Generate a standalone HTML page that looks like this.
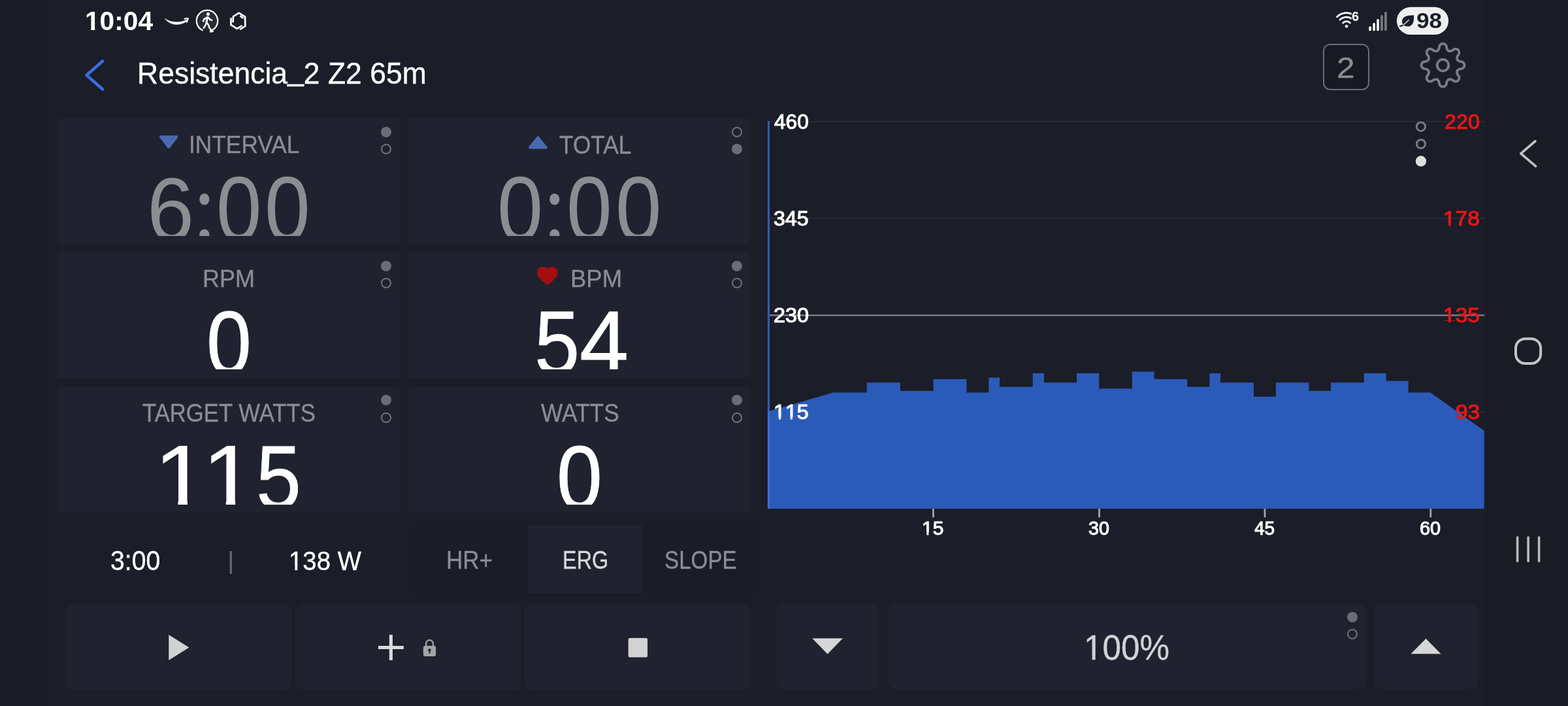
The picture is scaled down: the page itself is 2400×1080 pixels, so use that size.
<!DOCTYPE html>
<html lang="es"><head><meta charset="utf-8"><title>Resistencia_2 Z2 65m</title>
<meta name="viewport" content="width=2400, height=1080">
<style>
html,body{margin:0;padding:0;background:#1b1d28;}
body{width:2400px;height:1080px;overflow:hidden;position:relative;background:#1b1d28;font-family:"Liberation Sans",sans-serif;color:#fff;}
.t{position:absolute;white-space:nowrap;transform-origin:0 0;display:block;margin:0;padding:0;}
.abs{position:absolute;}
.panel{position:absolute;background:#20222f;border-radius:2.5px;overflow:hidden;}
.btn{position:absolute;background:#20222f;border-radius:11px;}
.o1{display:inline-block;clip-path:polygon(0 0,100% 0,100% 72.5%,62% 72.5%,62% 130%,44.4% 130%,44.4% 72.5%,0 72.5%);}
.o1b{display:inline-block;clip-path:polygon(0 0,100% 0,100% 69.5%,67.4% 69.5%,67.4% 130%,41.2% 130%,41.2% 69.5%,0 69.5%);}
.dot{position:absolute;width:16px;height:16px;border-radius:50%;box-sizing:border-box;}
.dot.f{background:#6a6c78;}
.dot.r{border:2.6px solid #6e707a;}
svg{position:absolute;left:0;top:0;overflow:visible;}

</style></head><body>
<div class="abs notext" style="left:0;top:0;width:74px;height:1080px;background:#191b25"></div>
<div class="abs notext" style="left:2274px;top:0;width:126px;height:1080px;background:#1a1c25"></div>
<svg class="notext" width="2400" height="1080" viewBox="0 0 2400 1080">
<rect x="1177" y="185.1" width="1095" height="1.8" fill="#2a2c38"/>
<rect x="1177" y="333.1" width="1095" height="1.8" fill="#2a2c38"/>
<rect x="1177" y="629.4" width="1095" height="1.8" fill="#2a2c38"/>
<rect x="1175" y="481.1" width="1097" height="2.4" fill="#7e7f86"/>
<path d="M1175.3 629.4 L1275.3 600.6 L1326.7 600.6 L1326.7 585.3 L1378 585.3 L1378 598 L1428.6 598 L1428.6 580 L1479.4 580 L1479.4 600.6 L1513.3 600.6 L1513.3 577.8 L1530 577.8 L1530 591.7 L1580.8 591.7 L1580.8 571.1 L1598 571.1 L1598 585.3 L1648 585.3 L1648 571.1 L1682.2 571.1 L1682.2 594.4 L1732.8 594.4 L1732.8 568.6 L1766.7 568.6 L1766.7 580 L1817.2 580 L1817.2 591.7 L1851.4 591.7 L1851.4 571.1 L1868 571.1 L1868 585.3 L1918.9 585.3 L1918.9 606.7 L1952.8 606.7 L1952.8 585.3 L2003.3 585.3 L2003.3 598 L2037 598 L2037 585.3 L2087.8 585.3 L2087.8 571.1 L2121.7 571.1 L2121.7 582.8 L2155.6 582.8 L2155.6 600.6 L2189.4 600.6 L2271.7 658.9 L2271.7 778.3 L1175.3 778.3 Z" fill="#2b5bb9"/>
<rect x="1174.9" y="185" width="3.2" height="445" fill="#2d5cae"/>
<rect x="1174.9" y="628.5" width="3.2" height="149.8" fill="#3a6fd0"/>
<rect x="1427.1" y="778.3" width="2.8" height="13.2" fill="#a4a4aa"/>
<rect x="1681.1" y="778.3" width="2.8" height="13.2" fill="#a4a4aa"/>
<rect x="1934.6" y="778.3" width="2.8" height="13.2" fill="#a4a4aa"/>
<rect x="2188.4" y="778.3" width="2.8" height="13.2" fill="#a4a4aa"/>
<circle cx="2174.9" cy="193.7" r="6.6" fill="none" stroke="#77787f" stroke-width="2.8"/>
<circle cx="2174.9" cy="220.2" r="6.6" fill="none" stroke="#77787f" stroke-width="2.8"/>
<circle cx="2174.9" cy="246.6" r="8" fill="#dedede"/>
<rect x="2026" y="68" width="69" height="69" rx="10" fill="#171923" stroke="#6b6d76" stroke-width="2"/>
<path d="M2208.50 66.75 L2209.36 66.83 L2210.21 67.05 L2211.04 67.43 L2211.84 67.96 L2212.59 68.66 L2213.28 69.56 L2213.87 70.78 L2214.14 73.20 L2214.58 74.44 L2215.03 75.37 L2215.50 76.13 L2215.97 76.75 L2216.46 77.26 L2216.98 77.66 L2217.53 77.95 L2218.12 78.13 L2218.77 78.22 L2219.48 78.21 L2220.26 78.10 L2221.12 77.89 L2222.10 77.56 L2223.28 76.99 L2225.19 75.47 L2226.47 75.02 L2227.59 74.87 L2228.62 74.91 L2229.56 75.10 L2230.41 75.42 L2231.17 75.86 L2231.83 76.42 L2232.39 77.08 L2232.83 77.84 L2233.15 78.69 L2233.34 79.63 L2233.38 80.66 L2233.23 81.78 L2232.78 83.06 L2231.26 84.97 L2230.69 86.15 L2230.36 87.13 L2230.15 87.99 L2230.04 88.77 L2230.03 89.48 L2230.12 90.13 L2230.30 90.72 L2230.59 91.27 L2230.99 91.79 L2231.50 92.28 L2232.12 92.75 L2232.88 93.22 L2233.81 93.67 L2235.05 94.11 L2237.47 94.38 L2238.69 94.97 L2239.59 95.66 L2240.29 96.41 L2240.82 97.21 L2241.20 98.04 L2241.42 98.89 L2241.50 99.75 L2241.42 100.61 L2241.20 101.46 L2240.82 102.29 L2240.29 103.09 L2239.59 103.84 L2238.69 104.53 L2237.47 105.12 L2235.05 105.39 L2233.81 105.83 L2232.88 106.28 L2232.12 106.75 L2231.50 107.22 L2230.99 107.71 L2230.59 108.23 L2230.30 108.78 L2230.12 109.37 L2230.03 110.02 L2230.04 110.73 L2230.15 111.51 L2230.36 112.37 L2230.69 113.35 L2231.26 114.53 L2232.78 116.44 L2233.23 117.72 L2233.38 118.84 L2233.34 119.87 L2233.15 120.81 L2232.83 121.66 L2232.39 122.42 L2231.83 123.08 L2231.17 123.64 L2230.41 124.08 L2229.56 124.40 L2228.62 124.59 L2227.59 124.63 L2226.47 124.48 L2225.19 124.03 L2223.28 122.51 L2222.10 121.94 L2221.12 121.61 L2220.26 121.40 L2219.48 121.29 L2218.77 121.28 L2218.12 121.37 L2217.53 121.55 L2216.98 121.84 L2216.46 122.24 L2215.97 122.75 L2215.50 123.37 L2215.03 124.13 L2214.58 125.06 L2214.14 126.30 L2213.87 128.72 L2213.28 129.94 L2212.59 130.84 L2211.84 131.54 L2211.04 132.07 L2210.21 132.45 L2209.36 132.67 L2208.50 132.75 L2207.64 132.67 L2206.79 132.45 L2205.96 132.07 L2205.16 131.54 L2204.41 130.84 L2203.72 129.94 L2203.13 128.72 L2202.86 126.30 L2202.42 125.06 L2201.97 124.13 L2201.50 123.37 L2201.03 122.75 L2200.54 122.24 L2200.02 121.84 L2199.47 121.55 L2198.88 121.37 L2198.23 121.28 L2197.52 121.29 L2196.74 121.40 L2195.88 121.61 L2194.90 121.94 L2193.72 122.51 L2191.81 124.03 L2190.53 124.48 L2189.41 124.63 L2188.38 124.59 L2187.44 124.40 L2186.59 124.08 L2185.83 123.64 L2185.17 123.08 L2184.61 122.42 L2184.17 121.66 L2183.85 120.81 L2183.66 119.87 L2183.62 118.84 L2183.77 117.72 L2184.22 116.44 L2185.74 114.53 L2186.31 113.35 L2186.64 112.37 L2186.85 111.51 L2186.96 110.73 L2186.97 110.02 L2186.88 109.37 L2186.70 108.78 L2186.41 108.23 L2186.01 107.71 L2185.50 107.22 L2184.88 106.75 L2184.12 106.28 L2183.19 105.83 L2181.95 105.39 L2179.53 105.12 L2178.31 104.53 L2177.41 103.84 L2176.71 103.09 L2176.18 102.29 L2175.80 101.46 L2175.58 100.61 L2175.50 99.75 L2175.58 98.89 L2175.80 98.04 L2176.18 97.21 L2176.71 96.41 L2177.41 95.66 L2178.31 94.97 L2179.53 94.38 L2181.95 94.11 L2183.19 93.67 L2184.12 93.22 L2184.88 92.75 L2185.50 92.28 L2186.01 91.79 L2186.41 91.27 L2186.70 90.72 L2186.88 90.13 L2186.97 89.48 L2186.96 88.77 L2186.85 87.99 L2186.64 87.13 L2186.31 86.15 L2185.74 84.97 L2184.22 83.06 L2183.77 81.78 L2183.62 80.66 L2183.66 79.63 L2183.85 78.69 L2184.17 77.84 L2184.61 77.08 L2185.17 76.42 L2185.83 75.86 L2186.59 75.42 L2187.44 75.10 L2188.38 74.91 L2189.41 74.87 L2190.53 75.02 L2191.81 75.47 L2193.72 76.99 L2194.90 77.56 L2195.88 77.89 L2196.74 78.10 L2197.52 78.21 L2198.23 78.22 L2198.88 78.13 L2199.47 77.95 L2200.02 77.66 L2200.54 77.26 L2201.03 76.75 L2201.50 76.13 L2201.97 75.37 L2202.42 74.44 L2202.86 73.20 L2203.13 70.78 L2203.72 69.56 L2204.41 68.66 L2205.16 67.96 L2205.96 67.43 L2206.79 67.05 L2207.64 66.83 Z" fill="none" stroke="#7b7d85" stroke-width="3.8" stroke-linejoin="round"/>
<circle cx="2208.5" cy="99.75" r="8.8" fill="none" stroke="#7b7d85" stroke-width="3.8"/>
<path d="M252.3 28.2 C259 33.6 274 36.6 285.4 30.2 L286.4 32 C275 40.6 259.5 38.8 252.3 28.2 Z" fill="#fff" stroke="#fff" stroke-width="0.5"/>
<path d="M282.4 28.8 L288 28 L286 33.8" fill="none" stroke="#fff" stroke-width="2" stroke-linejoin="round" stroke-linecap="round"/>
<circle cx="317.3" cy="31.7" r="14.6" fill="#2a2b35"/>
<path d="M309.8 46.3 A16.2 16.2 0 1 1 325.6 45.6" fill="none" stroke="#fff" stroke-width="2.3" stroke-linecap="round"/>
<path d="M321.4 42.8 L321.6 49.2 L326.6 48.4 Z" fill="#fff" stroke="#fff" stroke-width="1.2" stroke-linejoin="round"/>
<circle cx="318.5" cy="21.6" r="2.6" fill="#fff"/>
<path d="M317.6 26 L315.8 33.5 L319 38 L320.4 42.5 M316 33.5 L314.6 38.5 L311.8 42.6 M317 26.6 L312.5 29.2 L311 32.6 M319.3 27 L321.3 30 L324.2 30.9 M317.4 27 L316.6 33" fill="none" stroke="#fff" stroke-width="2.5" stroke-linecap="round" stroke-linejoin="round"/>
<path d="M356.6 34.4 L357 25.2 L365.7 19.8 L375 25.6 L375.4 40 L367.2 45.2 M353.6 27.2 L353.4 38 L362.8 43.8 L370.6 39.2 M367.4 24.4 L372.6 27.8" fill="none" stroke="#fff" stroke-width="2.7" stroke-linejoin="miter"/>
<circle cx="2061" cy="40.3" r="2.3" fill="#fff"/>
<path d="M2055.63 34.93 A7.6 7.6 0 0 1 2066.37 34.93" fill="none" stroke="#fff" stroke-width="2.8" stroke-linecap="round"/>
<path d="M2050.96 30.26 A14.2 14.2 0 0 1 2071.04 30.26" fill="none" stroke="#fff" stroke-width="2.8" stroke-linecap="round"/>
<path d="M2046.43 25.73 A20.6 20.6 0 0 1 2071.30 22.46" fill="none" stroke="#fff" stroke-width="2.8" stroke-linecap="round"/>
<rect x="2068.7" y="15" width="13" height="18" fill="#1b1d28"/>
<rect x="2095.2999999999997" y="40.2" width="3.6" height="7.099999999999994" rx="1.6" fill="#fff"/>
<rect x="2101.2999999999997" y="35" width="3.6" height="12.299999999999997" rx="1.6" fill="#fff"/>
<rect x="2107.2" y="29" width="3.6" height="18.299999999999997" rx="1.6" fill="#fff"/>
<rect x="2113.2" y="23" width="3.6" height="24.299999999999997" rx="1.6" fill="#7c7d84"/>
<rect x="2119.1" y="18" width="3.6" height="29.299999999999997" rx="1.6" fill="#7c7d84"/>
<rect x="2137.9" y="10.8" width="79.2" height="42.2" rx="21.1" fill="#efefef"/>
<path d="M2164 23.3 C2164.8 32 2163 40.6 2154.6 40.6 C2149.4 40.6 2146 37.4 2146 32.6 C2146 26 2152 23.3 2164 23.3 Z" fill="#1b1d28"/>
<path d="M2143 40 C2147.5 39.6 2151.5 36.6 2156 31.6" fill="none" stroke="#1b1d28" stroke-width="2.2" stroke-linecap="round"/>
<path d="M2147.4 38.2 C2150.6 36.4 2153 34 2156.2 30.8" fill="none" stroke="#efefef" stroke-width="1.3" stroke-linecap="round"/>
</svg>
<header class="abs" style="left:0;top:0;width:2400px;height:64px">
<span class="t " style="left:129.91px;top:11.52px;font-size:41.375px;line-height:41.375px;color:#fff;font-weight:700;transform:scaleX(0.9830);"><span class="o1b">1</span>0:04</span>
<span class="t " style="left:2069.33px;top:15.59px;font-size:19.375px;line-height:19.375px;color:#fff;font-weight:700;transform:scaleX(1.0202);">6</span>
<span class="t " style="left:2168.13px;top:15.96px;font-size:32.75px;line-height:32.75px;color:#1b1d28;font-weight:700;transform:scaleX(1.0725);">98</span>
</header>
<nav class="abs" style="left:0;top:64px;width:2400px;height:100px">
</nav>
<span class="t" style="left:209.72px;top:89.54px;font-size:45.5px;line-height:45.5px;color:#fff;-webkit-text-stroke:0.35px #fff;transform:scaleX(0.9781);">Resistencia<span style="position:relative;top:-0.105em">_</span>2 Z2 65m</span>
<span class="t " style="left:2045.80px;top:81.02px;font-size:45.0px;line-height:45.0px;color:#8b8d95;-webkit-text-stroke:0.35px #8b8d95;transform:scaleX(1.0975);">2</span>
<section class="panel" style="left:88px;top:181.25px;width:524px;height:191.5px">
<span class="t " style="left:201.20px;top:21.49px;font-size:37.375px;line-height:37.375px;color:#8b8d95;-webkit-text-stroke:0.35px #8b8d95;transform:scaleX(0.9450);">INTERVAL</span>
<div class="abs" style="left:0;top:0;width:524px;height:179.75px;overflow:hidden"><span class="t" style="left:136.89px;top:70.66px;font-size:137.5px;line-height:137.5px;color:#8c8d93;transform:scale(0.9432,1.0002);">6</span><span class="t" style="left:206.91px;top:60.70px;font-size:148.75px;line-height:148.75px;color:#8c8d93;transform:scale(0.8698,1.0008);font-family:'Liberation Serif',serif;">:</span><span class="t" style="left:243.47px;top:69.22px;font-size:140.0px;line-height:140.0px;color:#8c8d93;transform:scale(0.8939,0.9995);">0</span><span class="t" style="left:317.19px;top:69.22px;font-size:140.0px;line-height:140.0px;color:#8c8d93;transform:scale(0.8960,0.9995);">0</span></div>
<i class="dot f notext" style="left:495px;top:12.5px"></i>
<i class="dot r notext" style="left:495px;top:39px"></i>
<svg class="notext" width="40" height="30" style="left:155.75px;top:25.75px"><path d="M2 2.3 H26.4 L14.2 18 Z" fill="#4a6ab0" stroke="#4a6ab0" stroke-width="4" stroke-linejoin="round"/></svg>
</section>
<section class="panel" style="left:625px;top:181.25px;width:523px;height:191.5px">
<span class="t " style="left:230.75px;top:21.89px;font-size:38.25px;line-height:38.25px;color:#8b8d95;-webkit-text-stroke:0.35px #8b8d95;transform:scaleX(0.9226);">TOTAL</span>
<div class="abs" style="left:0;top:0;width:523px;height:179.75px;overflow:hidden"><span class="t" style="left:135.93px;top:69.22px;font-size:140.0px;line-height:140.0px;color:#8c8d93;transform:scale(0.9020,0.9995);">0</span><span class="t" style="left:205.91px;top:60.70px;font-size:148.75px;line-height:148.75px;color:#8c8d93;transform:scale(0.8698,1.0008);font-family:'Liberation Serif',serif;">:</span><span class="t" style="left:242.19px;top:69.22px;font-size:140.0px;line-height:140.0px;color:#8c8d93;transform:scale(0.8960,0.9995);">0</span><span class="t" style="left:317.28px;top:69.22px;font-size:140.0px;line-height:140.0px;color:#8c8d93;transform:scale(0.9074,0.9995);">0</span></div>
<i class="dot r notext" style="left:495px;top:12.5px"></i>
<i class="dot f notext" style="left:495px;top:39px"></i>
<svg class="notext" width="40" height="30" style="left:183.75px;top:26.75px"><path d="M2 17.7 H26.8 L14.4 2.3 Z" fill="#4a6ab0" stroke="#4a6ab0" stroke-width="4" stroke-linejoin="round"/></svg>
</section>
<section class="panel" style="left:88px;top:386.25px;width:524px;height:191.5px">
<span class="t " style="left:221.98px;top:21.49px;font-size:37.375px;line-height:37.375px;color:#8b8d95;-webkit-text-stroke:0.35px #8b8d95;transform:scaleX(0.9643);">RPM</span>
<div class="abs" style="left:0;top:0;width:524px;height:178.65px;overflow:hidden"><span class="t" style="left:227.92px;top:69.97px;font-size:137.0px;line-height:137.0px;color:#fff;transform:scale(0.9057,0.9997);-webkit-text-stroke:0.9px #fff;">0</span></div>
<i class="dot f notext" style="left:495px;top:12.5px"></i>
<i class="dot r notext" style="left:495px;top:39px"></i>
</section>
<section class="panel" style="left:625px;top:386.25px;width:523px;height:191.5px">
<span class="t " style="left:248.33px;top:21.49px;font-size:37.375px;line-height:37.375px;color:#8b8d95;-webkit-text-stroke:0.35px #8b8d95;transform:scaleX(0.9781);">BPM</span>
<div class="abs" style="left:0;top:0;width:523px;height:178.65px;overflow:hidden"><span class="t" style="left:192.62px;top:69.88px;font-size:137.25px;line-height:137.25px;color:#fff;transform:scale(0.9079,0.9997);-webkit-text-stroke:0.9px #fff;">5</span><span class="t" style="left:261.65px;top:68.87px;font-size:137.25px;line-height:137.25px;color:#fff;transform:scale(0.9848,1.0004);-webkit-text-stroke:0.9px #fff;">4</span></div>
<i class="dot f notext" style="left:495px;top:12.5px"></i>
<i class="dot r notext" style="left:495px;top:39px"></i>
<svg class="notext" width="40" height="34" viewBox="0 0 40 34" style="left:193px;top:18.75px"><path d="M20 28.6 C14 23.6 7.2 18.4 6.6 12.4 C6.2 8.2 9 5.6 12.6 5.6 C15.6 5.6 18.4 7 20 9.2 C21.6 7 24.4 5.6 27.4 5.6 C31 5.6 33.8 8.2 33.4 12.4 C32.8 18.4 26 23.6 20 28.6 Z" fill="#a60e0e" stroke="#a60e0e" stroke-width="4.6" stroke-linejoin="round"/></svg>
</section>
<section class="panel" style="left:88px;top:591.75px;width:524px;height:191.5px">
<span class="t " style="left:129.71px;top:21.52px;font-size:38.375px;line-height:38.375px;color:#8b8d95;-webkit-text-stroke:0.35px #8b8d95;transform:scaleX(0.9049);">TARGET WATTS</span>
<div class="abs" style="left:0;top:0;width:524px;height:180.15px;overflow:hidden"><span class="t" style="left:146.71px;top:69.61px;font-size:138.5px;line-height:138.5px;color:#fff;transform:scale(1.0941,1.0009);clip-path:polygon(0 0,77.0px 0,77.0px 104.1px,47.6px 104.1px,47.6px 158.5px,34.2px 158.5px,34.2px 104.1px,0 104.1px);">1</span><span class="t" style="left:221.31px;top:69.61px;font-size:138.5px;line-height:138.5px;color:#fff;transform:scale(1.0769,1.0009);clip-path:polygon(0 0,77.0px 0,77.0px 104.1px,47.6px 104.1px,47.6px 158.5px,34.2px 158.5px,34.2px 104.1px,0 104.1px);">1</span><span class="t" style="left:304.42px;top:70.36px;font-size:137.25px;line-height:137.25px;color:#fff;transform:scale(0.9031,0.9997);-webkit-text-stroke:0.9px #fff;">5</span></div>
<i class="dot f notext" style="left:495px;top:12.5px"></i>
<i class="dot r notext" style="left:495px;top:39px"></i>
</section>
<section class="panel" style="left:625px;top:591.75px;width:523px;height:191.5px">
<span class="t " style="left:203.11px;top:21.52px;font-size:38.375px;line-height:38.375px;color:#8b8d95;-webkit-text-stroke:0.35px #8b8d95;transform:scaleX(0.9211);">WATTS</span>
<div class="abs" style="left:0;top:0;width:523px;height:180.15px;overflow:hidden"><span class="t" style="left:226.93px;top:69.84px;font-size:137.0px;line-height:137.0px;color:#fff;transform:scale(0.9180,0.9997);-webkit-text-stroke:0.9px #fff;">0</span></div>
<i class="dot f notext" style="left:495px;top:12.5px"></i>
<i class="dot r notext" style="left:495px;top:39px"></i>
</section>
<span class="t " style="left:168.54px;top:837.08px;font-size:41.75px;line-height:41.75px;color:#fff;-webkit-text-stroke:0.35px #fff;transform:scaleX(0.9383);">3:00</span>
<span class="t" style="left:347.55px;top:839.65px;font-size:36.5px;line-height:36.5px;color:#62646e;transform:scale(1.1301,0.9995);">|</span>
<span class="t " style="left:442.17px;top:837.57px;font-size:41.375px;line-height:41.375px;color:#fff;-webkit-text-stroke:0.35px #fff;transform:scaleX(0.9282);"><span class="o1">1</span>38 W</span>
<div class="abs notext" style="left:630px;top:800px;width:532px;height:112px;background:#1b1c27"></div>
<div class="abs notext" style="left:808.3px;top:803.1px;width:176px;height:104.7px;background:#20222f"></div>
<span class="t " style="left:683.47px;top:838.01px;font-size:38.0px;line-height:38.0px;color:#8b8d95;-webkit-text-stroke:0.35px #8b8d95;transform:scaleX(0.9212);">HR+</span>
<span class="t " style="left:861.35px;top:837.39px;font-size:39.375px;line-height:39.375px;color:#d9d9dd;-webkit-text-stroke:0.35px #d9d9dd;transform:scaleX(0.8242);">ERG</span>
<span class="t " style="left:1017.17px;top:837.39px;font-size:39.375px;line-height:39.375px;color:#8b8d95;-webkit-text-stroke:0.35px #8b8d95;transform:scaleX(0.8428);">SLOPE</span>
<div class="btn notext" style="left:101px;top:925.4px;width:345.7px;height:130.2px"></div>
<div class="btn notext" style="left:452.2px;top:925.4px;width:345.8px;height:130.2px"></div>
<div class="btn notext" style="left:802.6px;top:925.4px;width:345.2px;height:130.2px"></div>
<div class="btn notext" style="left:1188px;top:922.5px;width:157px;height:131.25px"></div>
<div class="btn notext" style="left:1358.75px;top:922.5px;width:732px;height:131.25px"></div>
<div class="btn notext" style="left:2103.75px;top:922.5px;width:158.25px;height:131.25px"></div>
<span class="t " style="left:1659.09px;top:964.20px;font-size:53.75px;line-height:53.75px;color:#d2d2d6;-webkit-text-stroke:0.35px #d2d2d6;transform:scaleX(0.9529);"><span class="o1">1</span>00%</span>
<i class="dot f notext" style="left:2062px;top:935.75px"></i>
<i class="dot r notext" style="left:2062px;top:961.5px"></i>
<svg class="notext" width="2400" height="1080" viewBox="0 0 2400 1080">
<path d="M258.3 971 L289.4 990.5 L258.3 1010 Z" fill="#d2d2d4"/>
<path d="M579 990.5 H617.8 M598.4 971 V1010" stroke="#dadadc" stroke-width="5.1" fill="none"/>
<g fill="#a3a3a7"><rect x="647.9" y="988" width="19.2" height="16" rx="2.4"/><path d="M652.1 988.5 v-3.9 a5.4 5.4 0 0 1 10.8 0 V988.5" fill="none" stroke="#a3a3a7" stroke-width="2.3"/></g>
<circle cx="657.5" cy="994.4" r="2.2" fill="#20222f"/><path d="M656.4 995 H658.6 L658.2 1000 H656.8 Z" fill="#20222f"/>
<rect x="961.7" y="976" width="29.4" height="29.6" rx="2.5" fill="#d2d2d4"/>
<path d="M1243.25 976.5 H1290 L1266.6 1000.5 Z" fill="#d6d6d8"/>
<path d="M2159.5 1000.25 H2205.5 L2182.5 977 Z" fill="#d6d6d8"/>
<path d="M157 93.5 L132.5 115 L157 136.5" stroke="#3a6ddc" stroke-width="4.6" fill="none" stroke-linecap="round" stroke-linejoin="round"/>
<circle cx="2174.9" cy="193.7" r="6.6" fill="none" stroke="#77787f" stroke-width="2.8"/>
<circle cx="2174.9" cy="220.2" r="6.6" fill="none" stroke="#77787f" stroke-width="2.8"/>
<circle cx="2174.9" cy="246.6" r="8" fill="#dedede"/>
<path d="M2349.8 216 L2327.8 234.8 L2350.4 254.2" stroke="#c0c0c6" stroke-width="3.7" fill="none" stroke-linecap="round" stroke-linejoin="round"/>
<rect x="2320" y="518.2" width="38.2" height="37.8" rx="14.5" fill="none" stroke="#c3c3c9" stroke-width="4"/>
<path d="M2322.6 822 V858.5 M2339.1 822 V858.5 M2355.6 822 V858.5" stroke="#b9b9bd" stroke-width="3.6" stroke-linecap="round" fill="none"/>
</svg>
<span class="t " style="left:1184.83px;top:171.50px;font-size:30.875px;line-height:30.875px;color:#fff;-webkit-text-stroke:1.1px #fff;transform:scaleX(1.0236);">460</span>
<span class="t " style="left:1184.22px;top:319.50px;font-size:30.875px;line-height:30.875px;color:#fff;-webkit-text-stroke:1.1px #fff;transform:scaleX(1.0397);">345</span>
<span class="t " style="left:1184.14px;top:467.66px;font-size:30.875px;line-height:30.875px;color:#fff;-webkit-text-stroke:1.1px #fff;transform:scaleX(1.0499);">230</span>
<span class="t " style="left:1183.88px;top:615.35px;font-size:31.25px;line-height:31.25px;color:#fff;-webkit-text-stroke:1.1px #fff;transform:scaleX(1.0310);"><span class="o1">1</span><span class="o1">1</span>5</span>
<span class="t " style="left:2210.83px;top:171.01px;font-size:30.5px;line-height:30.5px;color:#e81616;-webkit-text-stroke:1.1px #e81616;transform:scaleX(1.0611);">220</span>
<span class="t " style="left:2209.18px;top:319.50px;font-size:30.875px;line-height:30.875px;color:#e81616;-webkit-text-stroke:1.1px #e81616;transform:scaleX(1.0834);"><span class="o1">1</span>78</span>
<span class="t " style="left:2208.85px;top:468.28px;font-size:30.875px;line-height:30.875px;color:#e81616;-webkit-text-stroke:1.1px #e81616;transform:scaleX(1.0854);"><span class="o1">1</span>35</span>
<span class="t " style="left:2227.72px;top:615.67px;font-size:30.875px;line-height:30.875px;color:#e81616;-webkit-text-stroke:1.1px #e81616;transform:scaleX(1.0760);">93</span>
<span class="t " style="left:1410.91px;top:792.54px;font-size:29.75px;line-height:29.75px;color:#fff;-webkit-text-stroke:1.1px #fff;transform:scaleX(1.0110);"><span class="o1">1</span>5</span>
<span class="t " style="left:1665.73px;top:794.29px;font-size:28.625px;line-height:28.625px;color:#fff;-webkit-text-stroke:1.1px #fff;transform:scaleX(1.0011);">30</span>
<span class="t " style="left:1919.81px;top:792.54px;font-size:29.75px;line-height:29.75px;color:#fff;-webkit-text-stroke:1.1px #fff;transform:scaleX(0.9433);">45</span>
<span class="t " style="left:2173.23px;top:794.30px;font-size:28.625px;line-height:28.625px;color:#fff;-webkit-text-stroke:1.1px #fff;transform:scaleX(1.0054);">60</span>
</body></html>
